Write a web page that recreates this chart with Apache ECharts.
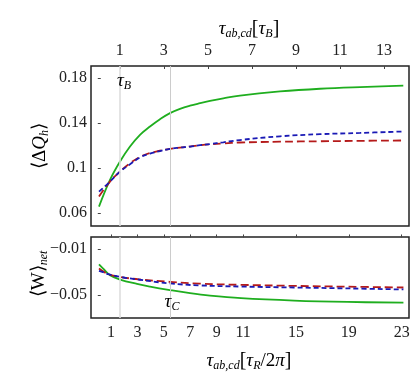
<!DOCTYPE html>
<html><head><meta charset="utf-8">
<script src="https://cdn.jsdelivr.net/npm/echarts@6/dist/echarts.min.js"></script>
<style>html,body{margin:0;padding:0;background:#fff}#c{width:415px;height:385px}</style>
</head><body><div id="c"></div>
<script>
// x values in units of tau_R/2pi (bottom axis)
const topX = [0.09,0.924,1.681,2.438,3.194,3.951,4.708,5.465,6.222,6.979,7.735,8.492,9.5,10.76,13.79,16.82,19.85,23.12];
const topGreenY = [0.0659,0.0896,0.1059,0.1192,0.1296,0.1370,0.1435,0.1489,0.1527,0.1555,0.1577,0.1597,0.1620,0.1645,0.1681,0.1705,0.1720,0.1732];
const topRedY   = [0.0748,0.0881,0.0970,0.1044,0.1100,0.1135,0.1155,0.1172,0.1183,0.1192,0.1203,0.1212,0.1220,0.1228,0.1235,0.1239,0.1243,0.1246];
const topBlueY  = [0.0792,0.0881,0.0970,0.1035,0.1095,0.1130,0.1152,0.1172,0.1183,0.1192,0.1204,0.1214,0.1230,0.1250,0.1283,0.1302,0.1313,0.1326];

const botGreenX = [0.09,0.47,0.92,1.68,2.97,3.95,5.46,6.98,8.49,10.84,14.85,18.91,23.13];
const botGreenY = [-0.0233,-0.0277,-0.0326,-0.0364,-0.0402,-0.0425,-0.0455,-0.0482,-0.0503,-0.0525,-0.0546,-0.0558,-0.0564];
const botRedX = [0.09,0.5,0.8,1.68,3.19,5.46,7.73,10.84,14.85,18.91,23.13];
const botRedY = [-0.0268,-0.0300,-0.0318,-0.0341,-0.0364,-0.0384,-0.0400,-0.0410,-0.0419,-0.0426,-0.0433];
const botBlueX = [0.09,0.5,0.8,1.68,3.19,5.46,7.73,10.84,14.85,18.91,23.13];
const botBlueY = [-0.0289,-0.0305,-0.0318,-0.0341,-0.0366,-0.0398,-0.0415,-0.0425,-0.0433,-0.0441,-0.0450];

const bottomTicks = [1,3,5,7,9,11,15,19,23];
const topTicks = [1,3,5,7,9,11,13];
const topYTicks = [0.06,0.1,0.14,0.18];
const botYTicks = [-0.05,-0.01];
const vLines = [1.658,5.487];
const tauBRatio = 1.6668; // tau_B in units of tau_R/2pi

const XMIN = -0.514, XMAX = 23.552;
const pair = (xs, ys) => xs.map((x,i)=>[x, ys[i]]);
const FONT = 'Liberation Serif';

const chart = echarts.init(document.getElementById('c'), null, {renderer:'canvas'});
const lbl = {fontFamily: FONT, fontSize: 16, color: '#222'};
const fmtNum = v => { let s = String(+v.toFixed(3)); return s.replace('-', '\u2212'); };

function vlineSeries(xi, yi){
  return {type:'line', xAxisIndex:xi, yAxisIndex:yi, data:[], z:1,
    markLine: {symbol:'none', silent:true, label:{show:false}, lineStyle:{type:'solid', width:1, color:'#ccc'},
      data: vLines.map((v,i)=>({xAxis:v, lineStyle:{type:'solid', color: i===0?'#dedede':'#cccccc', width: i===0?1.6:1}}))}};
}
function ser(xi, yi, data, color, dash, w){
  return {type:'line', xAxisIndex:xi, yAxisIndex:yi, data, smooth:0.4, symbol:'none', z:3,
    lineStyle:{color, width:w, type: dash || 'solid'}};
}

const rich = {
  t:{fontFamily:FONT, fontStyle:'italic', fontSize:19, color:'#222'},
  s:{fontFamily:FONT, fontStyle:'italic', fontSize:12, color:'#222', padding:[9,0,0,0]},
  b:{fontFamily:FONT, fontSize:20, color:'#222'},
  n:{fontFamily:FONT, fontSize:19, color:'#222'}
};

chart.setOption({
  animation:false,
  backgroundColor:'#fff',
  grid:[
    {left:91, top:66, width:318, height:160, show:true, borderColor:'#222', borderWidth:1.5, backgroundColor:'transparent'},
    {left:91, top:237, width:318, height:81, show:true, borderColor:'#222', borderWidth:1.5, backgroundColor:'transparent'}
  ],
  xAxis:[
    {type:'value', gridIndex:0, position:'bottom', min:XMIN, max:XMAX, axisLine:{show:false}, axisTick:{show:false}, axisLabel:{show:false}, splitLine:{show:false}},
    {type:'value', gridIndex:0, position:'top', min:XMIN/tauBRatio, max:XMAX/tauBRatio, axisLine:{show:false},
      axisTick:{show:true, inside:true, length:3, customValues:topTicks, lineStyle:{color:'#444'}},
      axisLabel:Object.assign({customValues:topTicks, margin:7, formatter:v=>String(Math.round(v))}, lbl), splitLine:{show:false}},
    {type:'value', gridIndex:1, position:'bottom', min:XMIN, max:XMAX, axisLine:{show:false},
      axisTick:{show:true, inside:true, length:3, customValues:bottomTicks, lineStyle:{color:'#444'}},
      axisLabel:Object.assign({customValues:bottomTicks, margin:7, formatter:v=>String(Math.round(v))}, lbl), splitLine:{show:false}}
  ],
  yAxis:[
    {type:'value', gridIndex:0, min:0.0487, max:0.1907, axisLine:{show:false},
      axisTick:{show:true, inside:true, length:3, customValues:topYTicks, lineStyle:{color:'#444'}},
      axisLabel:Object.assign({customValues:topYTicks, margin:4, formatter:fmtNum}, lbl), splitLine:{show:false}},
    {type:'value', gridIndex:1, min:-0.0697, max:0.0004, axisLine:{show:false},
      axisTick:{show:true, inside:true, length:3, customValues:botYTicks, lineStyle:{color:'#444'}},
      axisLabel:Object.assign({customValues:botYTicks, margin:4, formatter:fmtNum}, lbl), splitLine:{show:false}}
  ],
  series:[
    vlineSeries(0,0),
    vlineSeries(2,1),
    ser(0,0,pair(topX,topGreenY),'#1fae1f',null,1.8),
    ser(0,0,pair(topX,topRedY),'#b51a1a',[8,4],1.8),
    ser(0,0,pair(topX,topBlueY),'#1a1ab5',[5,3],1.8),
    ser(2,1,pair(botGreenX,botGreenY),'#1fae1f',null,1.8),
    ser(2,1,pair(botRedX,botRedY),'#b51a1a',[8,4],1.8),
    ser(2,1,pair(botBlueX,botBlueY),'#1a1ab5',[5,3],1.8)
  ],
  graphic:[
    {type:'text', x:249, y:29, z:10, style:{text:'{t|τ}{s|ab,cd}{b|[}{t|τ}{s|B}{b|]}', rich, textAlign:'center', textVerticalAlign:'middle'}},
    {type:'text', x:249, y:361, z:10, style:{text:'{t|τ}{s|ab,cd}{b|[}{t|τ}{s|R}{n|/2}{t|π}{b|]}', rich, textAlign:'center', textVerticalAlign:'middle'}},
    {type:'text', x:40, y:146, rotation:Math.PI/2, z:10, style:{text:'{n|⟨Δ}{t|Q}{s|h}{n|⟩}', rich, textAlign:'center', textVerticalAlign:'middle'}},
    {type:'text', x:39, y:274, rotation:Math.PI/2, z:10, style:{text:'{n|⟨W⟩}{s|net}', rich, textAlign:'center', textVerticalAlign:'middle'}},
    {type:'text', x:124, y:81, z:10, style:{text:'{t|τ}{s|B}', rich, textAlign:'center', textVerticalAlign:'middle'}},
    {type:'text', x:172, y:302, z:10, style:{text:'{t|τ}{s|C}', rich, textAlign:'center', textVerticalAlign:'middle'}}
  ]
});
</script>
</body></html>
